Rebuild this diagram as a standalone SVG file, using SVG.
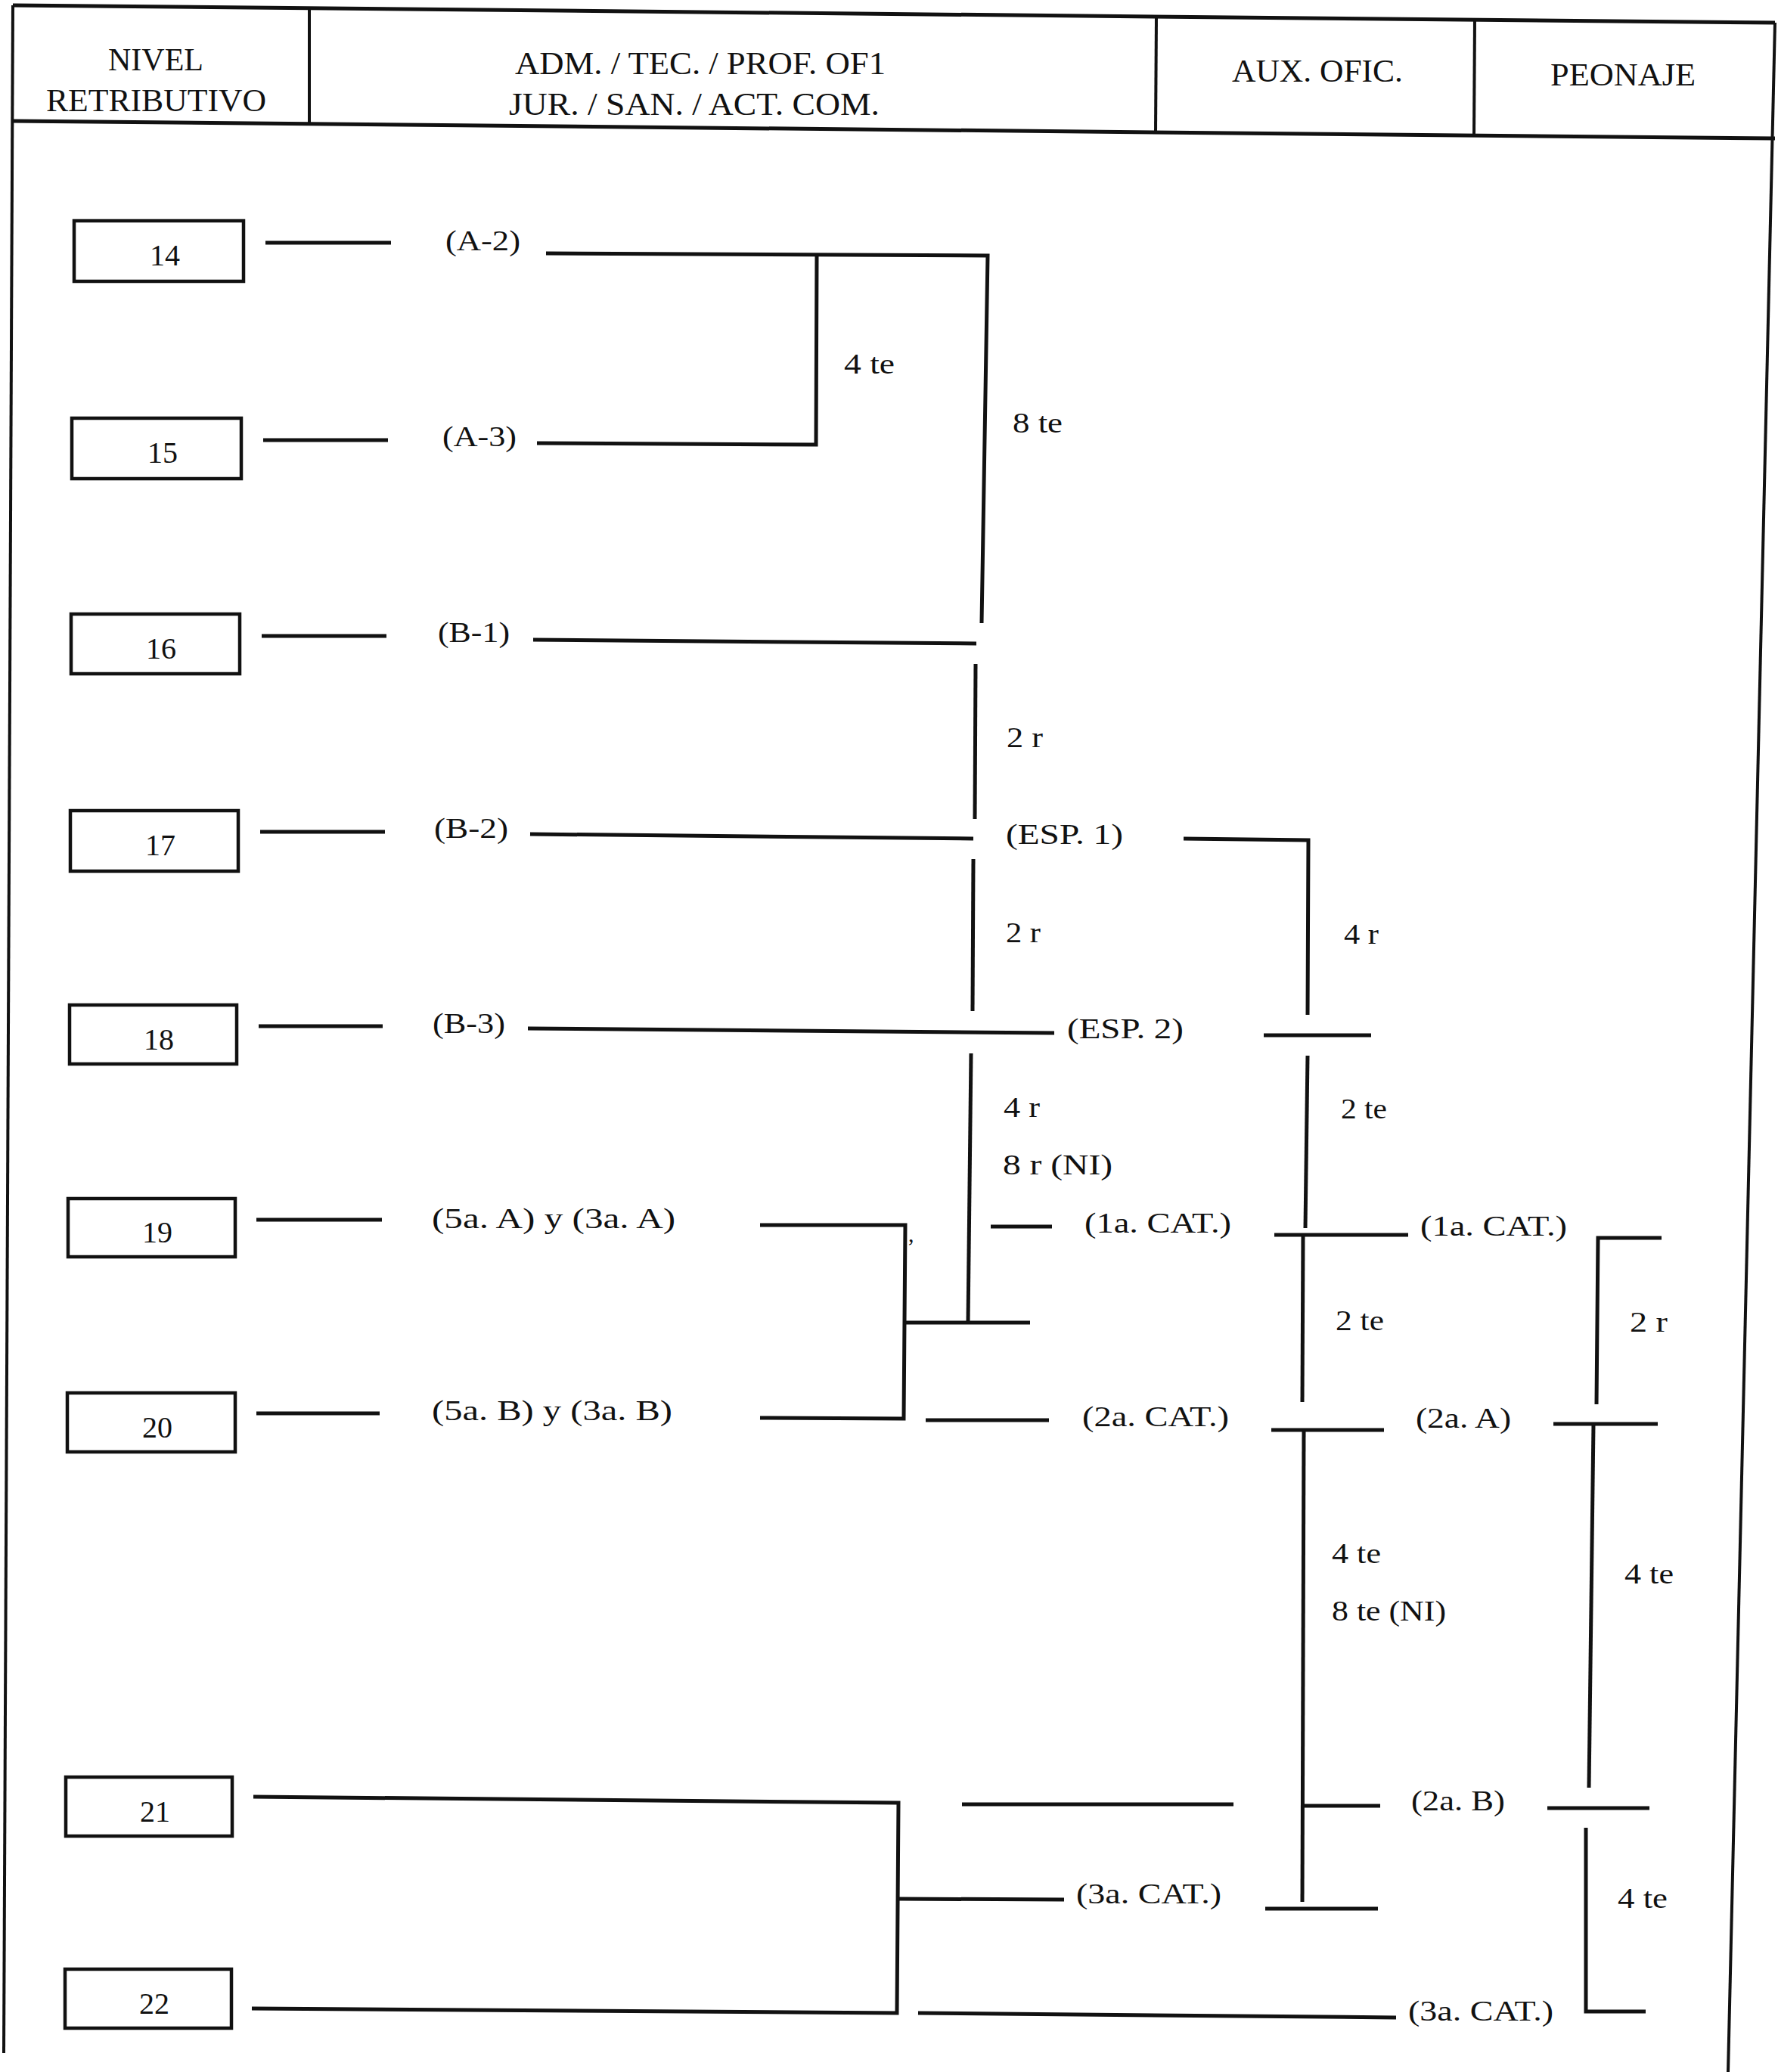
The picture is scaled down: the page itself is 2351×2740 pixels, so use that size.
<svg xmlns="http://www.w3.org/2000/svg" width="2351" height="2740" viewBox="0 0 2351 2740">
<style>
text{font-family:"Liberation Serif","Times New Roman",serif;fill:#111}
.h{font-size:42px}
.n{font-size:40px;text-anchor:middle}
.l{font-size:38px}
.box{fill:none;stroke:#111;stroke-width:4.5}
.fr{fill:none;stroke:#111;stroke-width:4}
.c{fill:none;stroke:#111;stroke-width:5;stroke-linecap:butt;stroke-linejoin:miter}
</style>
<rect width="2351" height="2740" fill="#fff"/>
<g id="frame">
<line class="fr" x1="17" y1="7" x2="2347" y2="30" style="stroke-width:5"/>
<line class="fr" x1="17" y1="160" x2="2347" y2="183" style="stroke-width:5"/>
<line class="fr" x1="17" y1="7" x2="5" y2="2715"/>
<line class="fr" x1="2347" y1="30" x2="2285" y2="2740"/>
<line class="fr" x1="409" y1="11" x2="409" y2="163"/>
<line class="fr" x1="1529" y1="21" x2="1528" y2="175"/>
<line class="fr" x1="1950" y1="25" x2="1949" y2="179"/>
</g>
<g id="header">
<text class="h" x="206" y="93" text-anchor="middle">NIVEL</text>
<text class="h" x="61" y="147" textLength="291" lengthAdjust="spacingAndGlyphs">RETRIBUTIVO</text>
<text class="h" x="681" y="98" textLength="490" lengthAdjust="spacingAndGlyphs">ADM. / TEC. / PROF. OF1</text>
<text class="h" x="673" y="152" textLength="490" lengthAdjust="spacingAndGlyphs">JUR. / SAN. / ACT. COM.</text>
<text class="h" x="1629" y="108" textLength="226" lengthAdjust="spacingAndGlyphs">AUX. OFIC.</text>
<text class="h" x="2050" y="113" textLength="192" lengthAdjust="spacingAndGlyphs">PEONAJE</text>
</g>
<g id="n14"><rect class="box" x="98" y="292" width="224" height="80"/><text class="n" x="218" y="351">14</text></g>
<g id="n15"><rect class="box" x="95" y="553" width="224" height="80"/><text class="n" x="215" y="612">15</text></g>
<g id="n16"><rect class="box" x="94" y="812" width="223" height="79"/><text class="n" x="213" y="871">16</text></g>
<g id="n17"><rect class="box" x="93" y="1072" width="222" height="80"/><text class="n" x="212" y="1131">17</text></g>
<g id="n18"><rect class="box" x="92" y="1329" width="221" height="78"/><text class="n" x="210" y="1388">18</text></g>
<g id="n19"><rect class="box" x="90" y="1585" width="221" height="77"/><text class="n" x="208" y="1643">19</text></g>
<g id="n20"><rect class="box" x="89" y="1842" width="222" height="78"/><text class="n" x="208" y="1901">20</text></g>
<g id="n21"><rect class="box" x="87" y="2350" width="220" height="78"/><text class="n" x="205" y="2409">21</text></g>
<g id="n22"><rect class="box" x="86" y="2604" width="220" height="78"/><text class="n" x="204" y="2663">22</text></g>
<g id="labels">
<text class="l" x="589" y="331" textLength="99" lengthAdjust="spacingAndGlyphs">(A-2)</text>
<text class="l" x="585" y="590" textLength="98" lengthAdjust="spacingAndGlyphs">(A-3)</text>
<text class="l" x="579" y="849" textLength="95" lengthAdjust="spacingAndGlyphs">(B-1)</text>
<text class="l" x="574" y="1108" textLength="98" lengthAdjust="spacingAndGlyphs">(B-2)</text>
<text class="l" x="572" y="1366" textLength="96" lengthAdjust="spacingAndGlyphs">(B-3)</text>
<text class="l" x="571" y="1624" textLength="322" lengthAdjust="spacingAndGlyphs">(5a. A)  y  (3a. A)</text>
<text class="l" x="571" y="1878" textLength="318" lengthAdjust="spacingAndGlyphs">(5a. B)  y  (3a. B)</text>
<text class="l" x="1116" y="494" textLength="67" lengthAdjust="spacingAndGlyphs">4 te</text>
<text class="l" x="1339" y="572" textLength="66" lengthAdjust="spacingAndGlyphs">8 te</text>
<text class="l" x="1331" y="988" textLength="48" lengthAdjust="spacingAndGlyphs">2 r</text>
<text class="l" x="1330" y="1116" textLength="155" lengthAdjust="spacingAndGlyphs">(ESP. 1)</text>
<text class="l" x="1330" y="1246" textLength="46" lengthAdjust="spacingAndGlyphs">2 r</text>
<text class="l" x="1777" y="1248" textLength="46" lengthAdjust="spacingAndGlyphs">4 r</text>
<text class="l" x="1411" y="1373" textLength="154" lengthAdjust="spacingAndGlyphs">(ESP. 2)</text>
<text class="l" x="1327" y="1477" textLength="48" lengthAdjust="spacingAndGlyphs">4 r</text>
<text class="l" x="1773" y="1479" textLength="61" lengthAdjust="spacingAndGlyphs">2 te</text>
<text class="l" x="1326" y="1553" textLength="145" lengthAdjust="spacingAndGlyphs">8 r  (NI)</text>
<text class="l" x="1434" y="1630" textLength="194" lengthAdjust="spacingAndGlyphs">(1a. CAT.)</text>
<text class="l" x="1878" y="1634" textLength="194" lengthAdjust="spacingAndGlyphs">(1a. CAT.)</text>
<text class="l" x="1766" y="1759" textLength="64" lengthAdjust="spacingAndGlyphs">2 te</text>
<text class="l" x="2155" y="1761" textLength="50" lengthAdjust="spacingAndGlyphs">2 r</text>
<text class="l" x="1431" y="1886" textLength="194" lengthAdjust="spacingAndGlyphs">(2a. CAT.)</text>
<text class="l" x="1872" y="1888" textLength="126" lengthAdjust="spacingAndGlyphs">(2a. A)</text>
<text class="l" x="1761" y="2067" textLength="65" lengthAdjust="spacingAndGlyphs">4 te</text>
<text class="l" x="2148" y="2094" textLength="65" lengthAdjust="spacingAndGlyphs">4 te</text>
<text class="l" x="1761" y="2143" textLength="151" lengthAdjust="spacingAndGlyphs">8 te (NI)</text>
<text class="l" x="1866" y="2394" textLength="124" lengthAdjust="spacingAndGlyphs">(2a. B)</text>
<text class="l" x="1423" y="2517" textLength="192" lengthAdjust="spacingAndGlyphs">(3a. CAT.)</text>
<text class="l" x="2139" y="2523" textLength="66" lengthAdjust="spacingAndGlyphs">4 te</text>
<text class="l" x="1862" y="2672" textLength="192" lengthAdjust="spacingAndGlyphs">(3a. CAT.)</text>
<text class="l" x="1201" y="1642" style="font-size:30px">,</text>
</g>
<g id="connectors">
<line class="c" x1="351" y1="321" x2="517" y2="321"/>
<line class="c" x1="348" y1="582" x2="513" y2="582"/>
<line class="c" x1="346" y1="841" x2="511" y2="841"/>
<line class="c" x1="344" y1="1100" x2="509" y2="1100"/>
<line class="c" x1="342" y1="1357" x2="506" y2="1357"/>
<line class="c" x1="339" y1="1613" x2="505" y2="1613"/>
<line class="c" x1="339" y1="1869" x2="502" y2="1869"/>
<polyline class="c" points="722,335 1306,338 1298,824"/>
<polyline class="c" points="710,586 1079,588 1080,337"/>
<line class="c" x1="705" y1="846" x2="1291" y2="851"/>
<line class="c" x1="1290" y1="878" x2="1289" y2="1083"/>
<line class="c" x1="701" y1="1103" x2="1287" y2="1109"/>
<polyline class="c" points="1565,1109 1730,1111 1729,1342"/>
<line class="c" x1="1287" y1="1136" x2="1286" y2="1337"/>
<line class="c" x1="698" y1="1360" x2="1394" y2="1366"/>
<line class="c" x1="1671" y1="1369" x2="1813" y2="1369"/>
<line class="c" x1="1284" y1="1393" x2="1280" y2="1749"/>
<line class="c" x1="1729" y1="1396" x2="1726" y2="1624"/>
<polyline class="c" points="1005,1620 1197,1620 1195,1876 1005,1875"/>
<line class="c" x1="1197" y1="1749" x2="1362" y2="1749"/>
<line class="c" x1="1310" y1="1622" x2="1391" y2="1622"/>
<line class="c" x1="1685" y1="1633" x2="1862" y2="1633"/>
<line class="c" x1="1723" y1="1633" x2="1722" y2="1854"/>
<polyline class="c" points="2197,1637 2113,1637 2111,1857"/>
<line class="c" x1="1224" y1="1878" x2="1387" y2="1878"/>
<line class="c" x1="1681" y1="1891" x2="1830" y2="1891"/>
<line class="c" x1="1724" y1="1891" x2="1722" y2="2515"/>
<line class="c" x1="2054" y1="1883" x2="2192" y2="1883"/>
<line class="c" x1="2107" y1="1883" x2="2101" y2="2364"/>
<line class="c" x1="1272" y1="2386" x2="1631" y2="2386"/>
<line class="c" x1="1720" y1="2388" x2="1825" y2="2388"/>
<line class="c" x1="2046" y1="2391" x2="2181" y2="2391"/>
<polyline class="c" points="2097,2417 2097,2660 2176,2660"/>
<polyline class="c" points="335,2376 1188,2384 1186,2662 333,2656"/>
<line class="c" x1="1188" y1="2511" x2="1407" y2="2512"/>
<line class="c" x1="1673" y1="2524" x2="1822" y2="2524"/>
<line class="c" x1="1214" y1="2662" x2="1846" y2="2668"/>
</g>
</svg>
